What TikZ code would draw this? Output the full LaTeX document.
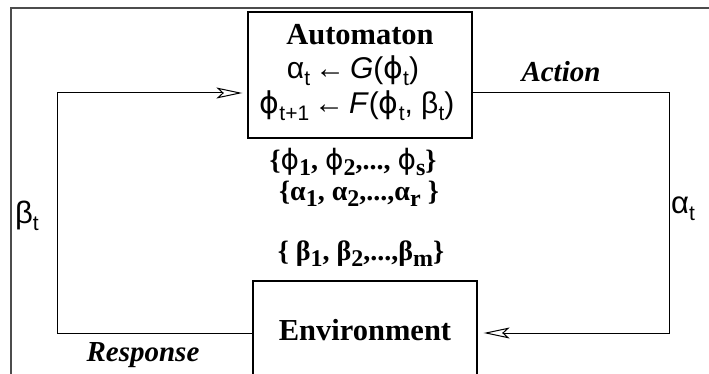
\documentclass[tikz,border=0pt]{standalone}
\usepackage{fontspec}
\setmainfont{Liberation Serif}
\newfontfamily\symfont{Liberation Sans}
\newfontfamily\grk{DejaVu Sans}
\usetikzlibrary{arrows.meta}

% lowered subscript used in the formulas (takes no vertical room)
\newcommand{\lowsub}[2][21]{\raisebox{-0.45ex}[0pt][0pt]{\fontsize{#1}{#1}\selectfont #2}}
% straight-stroke phi
\newcommand{\vphi}{{\grk\mdseries ϕ}}

\tikzset{
  block/.style={draw, line width=1.3pt, inner sep=0pt},
  link/.style={line width=1pt},
  tip/.style={-{Stealth[open, length=26pt, width=11pt, inset=6pt]}},
  title/.style={font=\bfseries\fontsize{30.5}{30}\selectfont},
  rule/.style={font=\symfont\fontsize{30}{30}\selectfont, inner sep=0pt},
  setline/.style={font=\bfseries\fontsize{28}{28}\selectfont, inner sep=0pt},
  tag/.style={font=\bfseries\itshape\fontsize{29}{29}\selectfont},
  sig/.style={font=\symfont\fontsize{31}{31}\selectfont, inner sep=0pt}
}

\begin{document}
\begin{tikzpicture}[x=1pt, y=-1pt]
\useasboundingbox (0,0) rectangle (709,374);
\clip (0,0) rectangle (709,374);

% outer frame
\draw[line width=2pt, black!70] (11,380) -- (11,8) -- (715,8);

% blocks
\node[block, minimum width=224pt, minimum height=126pt] (auto) at (360,75) {};
\node[block, minimum width=224pt, minimum height=104pt] (env) at (365,333) {};

% texts inside the automaton
\node[title] (autoname) at (360,35) {Automaton};
\node[rule] (ruleG) at (353,70) {α\lowsub{t}\,←\,\textit{G}(\vphi\lowsub{t})};
\node[rule] (ruleF) at (357,105) {\vphi\lowsub{t+1}\,←\,\textit{F}(\vphi\lowsub{t}, β\lowsub{t})};

% state, action and response sets
\node[setline] (phiset) at (353,162) {\{\vphi\lowsub[24]{1}, \vphi\lowsub[24]{2},..., \vphi\lowsub[24]{s}\}};
\node[setline] (alphaset) at (359,193) {\{α\lowsub[24]{1}, α\lowsub[24]{2},...,α\lowsub[24]{r} \}};
\node[setline] (betaset) at (361,254) {\{ β\lowsub[24]{1}, β\lowsub[24]{2},...,β\lowsub[24]{m}\}};

\node[title] (envname) at (365,330) {Environment};

% feedback loop
\coordinate (lc) at (57,93);
\coordinate (rc) at (669,93);
\draw[link, tip] (env.west) -| (lc) -- ([xshift=-5pt]auto.west |- lc);
\draw[link, tip] (auto.east |- rc) -- (rc) |- ([xshift=6pt]env.east);

% loop labels
\node[tag] (action) at (561,72) {Action};
\node[tag] (response) at (143,355) {Response};
\node[sig] (beta) at (27,215) {β\lowsub{t}};
\node[sig, anchor=west] (alpha) at (671,205) {α\lowsub{t}};
\end{tikzpicture}
\end{document}
